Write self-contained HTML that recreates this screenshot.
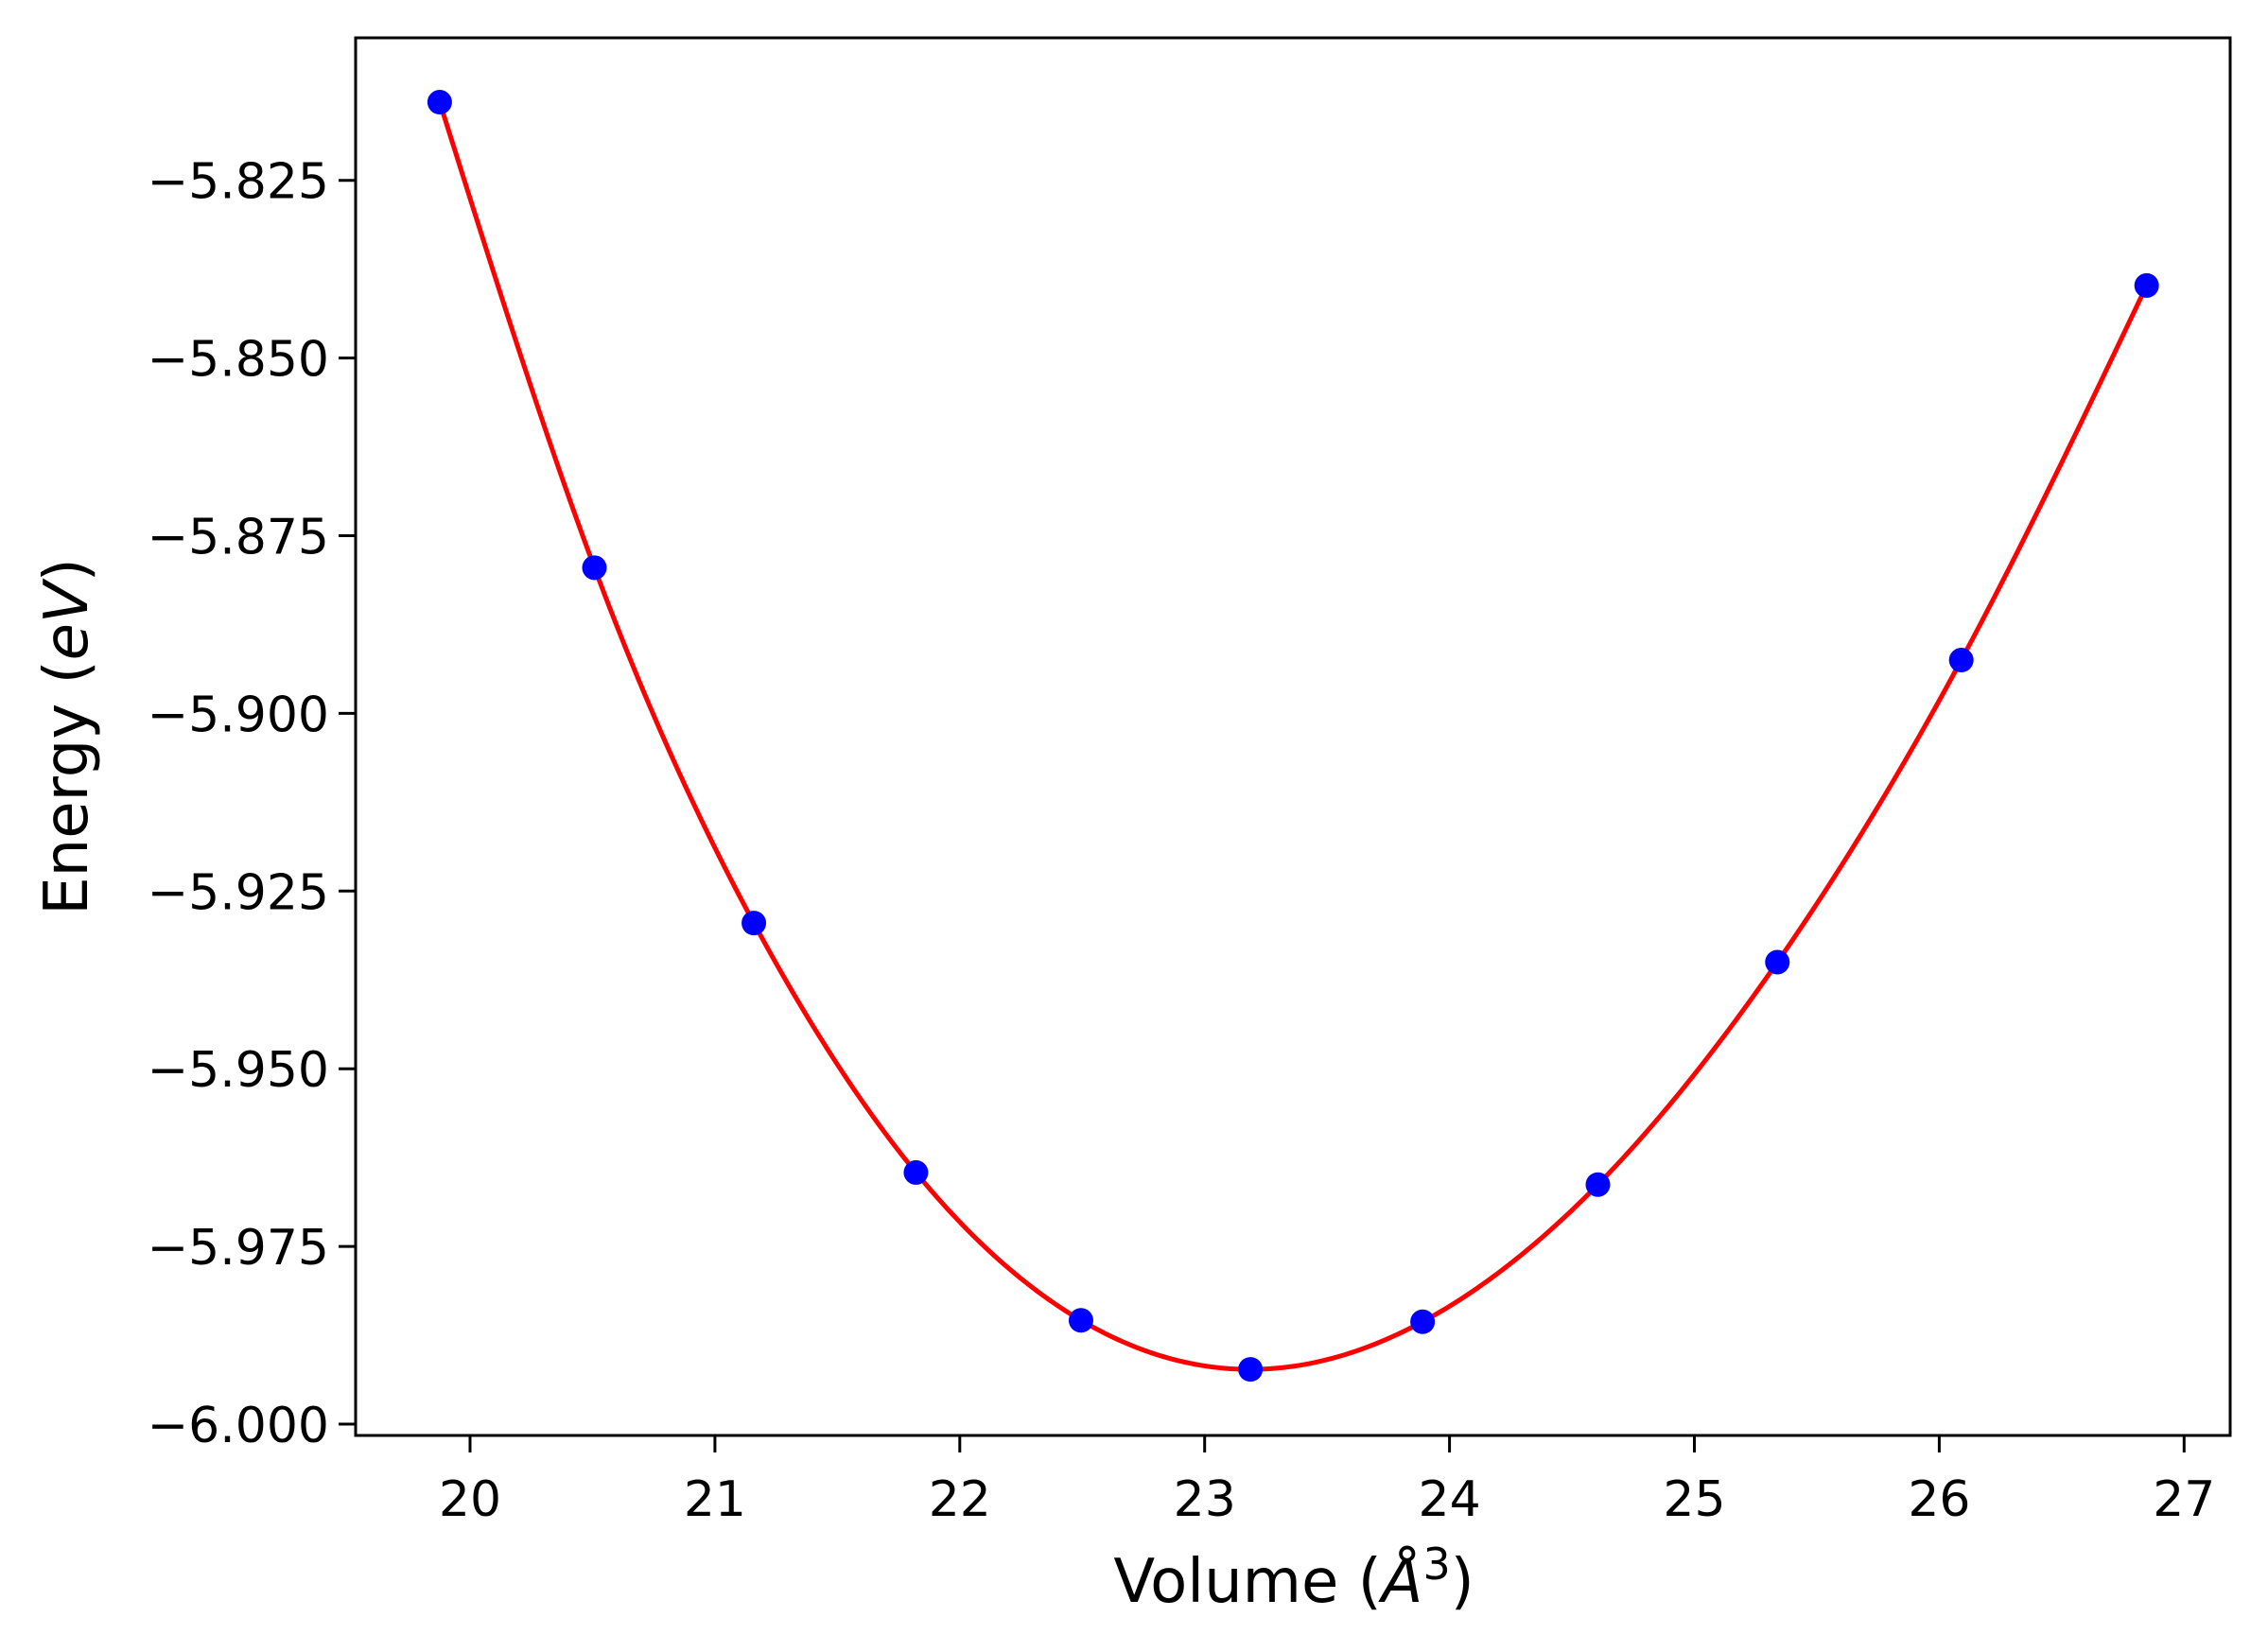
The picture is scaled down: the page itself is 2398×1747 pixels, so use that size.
<!DOCTYPE html>
<html><head><meta charset="utf-8"><style>
html,body{margin:0;padding:0;background:#fff;}
svg{display:block;font-family:"DejaVu Sans","Liberation Sans",sans-serif;}
</style></head><body>
<svg id="chart" width="2398" height="1747" viewBox="0 0 2398 1747" xmlns="http://www.w3.org/2000/svg">
<rect width="2398" height="1747" fill="#fff"/>
<g id="curve-layer"></g>
<g id="points-layer"></g>
<rect x="376" y="40" width="1982" height="1478" fill="none" stroke="#000" stroke-width="3"/>
<g id="xticks"></g>
<g id="yticks"></g>
<text x="1368" y="1694" font-size="64" text-anchor="middle">Volume (<tspan font-style="italic">Å</tspan><tspan font-size="46" dy="-24">3</tspan><tspan dy="24">)</tspan></text>
<text transform="translate(92,779) rotate(-90)" font-size="64" text-anchor="middle">Energy (<tspan font-style="italic">eV</tspan>)</text>
</svg>
<script>
const volumes = [19.876, 20.508, 21.159, 21.821, 22.495, 23.187, 23.890, 24.606, 25.339, 26.090, 26.847];
const energies = [-5.8140, -5.8795, -5.9295, -5.9646, -5.9854, -5.9923, -5.9856, -5.9663, -5.9350, -5.8925, -5.8398];
const xTicks = [20, 21, 22, 23, 24, 25, 26, 27];
const yTicks = [-6.000, -5.975, -5.950, -5.925, -5.900, -5.875, -5.850, -5.825];
const yTickLabels = ["\u22126.000","\u22125.975","\u22125.950","\u22125.925","\u22125.900","\u22125.875","\u22125.850","\u22125.825"];

const NS = "http://www.w3.org/2000/svg";
function xs(v){ return 497 + (v - 20) * 258.9; }
function ys(e){ return 1506 - (e + 6.0) / 0.025 * 187.9; }
function mk(tag, attrs, parent){ const el=document.createElementNS(NS,tag); for(const k in attrs) el.setAttribute(k,attrs[k]); parent.appendChild(el); return el; }

// natural cubic spline through data
function spline(x, y){
  const n=x.length, h=[], a=[], l=[1], mu=[0], z=[0], c=new Array(n).fill(0), b=[], d=[];
  for(let i=0;i<n-1;i++) h[i]=x[i+1]-x[i];
  for(let i=1;i<n-1;i++) a[i]=3/h[i]*(y[i+1]-y[i])-3/h[i-1]*(y[i]-y[i-1]);
  for(let i=1;i<n-1;i++){ l[i]=2*(x[i+1]-x[i-1])-h[i-1]*mu[i-1]; mu[i]=h[i]/l[i]; z[i]=(a[i]-h[i-1]*z[i-1])/l[i]; }
  l[n-1]=1; z[n-1]=0;
  for(let j=n-2;j>=0;j--){ c[j]=z[j]-mu[j]*c[j+1]; b[j]=(y[j+1]-y[j])/h[j]-h[j]*(c[j+1]+2*c[j])/3; d[j]=(c[j+1]-c[j])/(3*h[j]); }
  return function(t){ let i=0; while(i<n-2 && t>x[i+1]) i++; const dx=t-x[i]; return y[i]+b[i]*dx+c[i]*dx*dx+d[i]*dx*dx*dx; };
}
const f = spline(volumes, energies);
let dstr = "";
const N = 300, v0 = volumes[0], v1 = volumes[volumes.length-1];
for(let i=0;i<=N;i++){ const v=v0+(v1-v0)*i/N; dstr += (i?"L":"M")+xs(v).toFixed(2)+","+ys(f(v)).toFixed(2); }
const curve = mk("path",{d:dstr,fill:"none",stroke:"#ff0000","stroke-width":5,"stroke-linejoin":"round"},document.getElementById("curve-layer"));



const pl = document.getElementById("points-layer");
volumes.forEach((v,i)=>{
  const c = mk("circle",{cx:xs(v),cy:ys(energies[i]),r:13,fill:"#0000ff"},pl);
  
  
});

const xt = document.getElementById("xticks");
xTicks.forEach(t=>{
  const ln = mk("line",{x1:xs(t),x2:xs(t),y1:1518,y2:1536,stroke:"#000","stroke-width":3},xt);
  
  
  const tx = mk("text",{x:xs(t),y:1603,"font-size":52,"text-anchor":"middle"},xt);
  tx.textContent = String(t);
  
  
});
const yt = document.getElementById("yticks");
yTicks.forEach((t,i)=>{
  const ln = mk("line",{x1:358,x2:376,y1:ys(t),y2:ys(t),stroke:"#000","stroke-width":3},yt);
  
  
  const tx = mk("text",{x:348,y:ys(t)+19,"font-size":52,"text-anchor":"end"},yt);
  tx.textContent = yTickLabels[i];
  
  
});
</script>
</body></html>
